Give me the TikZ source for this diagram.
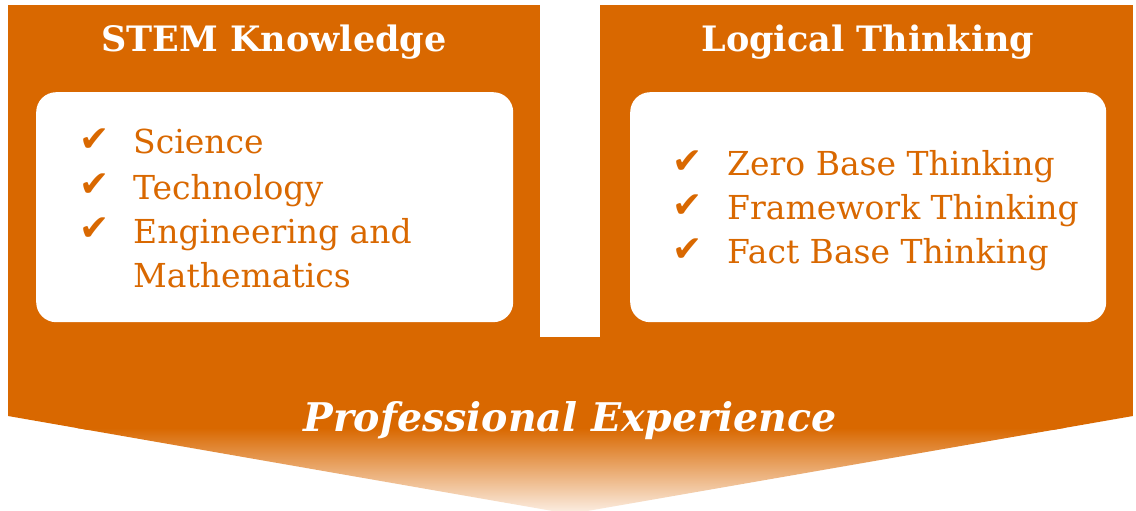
\documentclass[tikz,border=0pt]{standalone}
\usepackage{fontspec}
\setmainfont{DejaVu Serif}
\newfontfamily\symfont{DejaVu Sans}
\usetikzlibrary{positioning}
\definecolor{pwcorange}{HTML}{D96800}
\definecolor{pwcfade}{HTML}{FCF0E6}

\begin{document}
\begin{tikzpicture}[x=1pt,y=-1pt,
 panel/.style={fill=pwcorange,inner sep=0pt,anchor=north west},
 card/.style={fill=white,rounded corners=20pt,inner sep=0pt,anchor=north west},
 title/.style={text=white,font=\fontsize{35}{40}\selectfont\bfseries,anchor=base,inner sep=0pt},
 item/.style={text=pwcorange,font=\fontsize{33}{40}\selectfont,anchor=base west,inner sep=0pt},
 tick/.style={text=pwcorange,font=\symfont\fontsize{36}{40}\selectfont,anchor=base west,inner sep=0pt},
 banner/.style={text=white,font=\fontsize{39.5}{44}\selectfont\bfseries\itshape,anchor=base,inner sep=0pt}
]
\useasboundingbox[fill=white] (0,0) rectangle (1136,511);

% bottom arrow with fading tip
\begin{scope}
\clip (8,337) -- (1133,337) -- (1133,416) -- (570,514) -- (8,416) -- cycle;
\fill[pwcorange] (8,337) rectangle (1133,430);
\shade[top color=pwcorange,bottom color=pwcfade] (8,428) rectangle (1133,514);
\end{scope}
\node[banner] (exp) at (570,431) {Professional Experience};

% left panel
\node[panel,minimum width=532,minimum height=333] (stem) at (8,5) {};
\node[title] (stemtitle) at (274,52) {STEM Knowledge};
\node[card,minimum width=477,minimum height=230] (stemcard) at (36,92) {};
\node[item] (sci) at (133,153) {Science};
\node[item] (tech) at (133,199) {Technology};
\node[item] (eng) at (133,243) {Engineering and};
\node[item] (math) at (133,287) {Mathematics};
\node[tick] at (79,151) {✔};
\node[tick] at (79,196) {✔};
\node[tick] at (79,240) {✔};

% right panel
\node[panel,minimum width=533,minimum height=333] (logic) at (600,5) {};
\node[title] (logictitle) at (868,52) {Logical Thinking};
\node[card,minimum width=476,minimum height=230] (logiccard) at (630,92) {};
\node[item] (zero) at (727,175) {Zero Base Thinking};
\node[item] (frame) at (727,219) {Framework Thinking};
\node[item] (fact) at (727,263) {Fact Base Thinking};
\node[tick] at (672,173) {✔};
\node[tick] at (672,217) {✔};
\node[tick] at (672,261) {✔};
\end{tikzpicture}
\end{document}
